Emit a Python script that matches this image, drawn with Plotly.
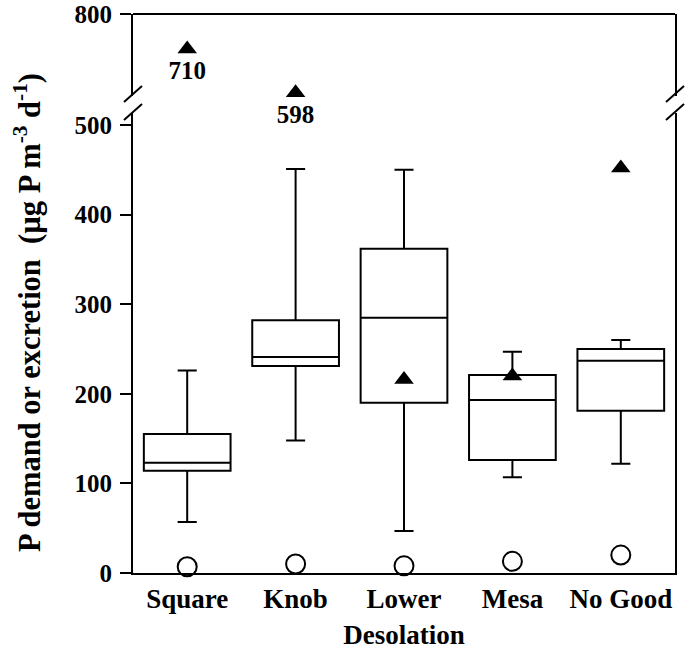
import plotly.graph_objects as go

# ---- data ----
categories = ["Square", "Knob", "Lower<br>Desolation", "Mesa", "No Good"]
upper_fence = [226, 451, 450, 247, 260]
q3_vals = [155, 282, 362, 221, 250]
median_vals = [123, 241, 285, 193, 237]
q1_vals = [114, 231, 190, 126, 181]
lower_fence = [57, 148, 47, 107, 122]
demand_triangles = [710, 598, 216, 220, 452]
excretion_circles = [7, 10, 8, 13, 20]
lower_ticks = [0, 100, 200, 300, 400, 500]
upper_ticks = [800]

# ---- layout geometry (pixels) ----
W, H = 694, 650
L, R, T, B = 133, 675, 14, 573
PW, PH = R - L, B - T


def px(x):
    return (x - L) / PW


def py(y):
    return (B - y) / PH


lower_top_px = 113
upper_bot_px = 96
lower_scale = 0.896   # px per unit
upper_scale = 0.39

lower_range = [0, (B - lower_top_px) / lower_scale]
upper_range = [800 - (upper_bot_px - T) / upper_scale, 800]

FONT = "Liberation Serif"

fig = go.Figure()

fig.add_trace(go.Box(
    x=categories, q1=q1_vals, median=median_vals, q3=q3_vals,
    lowerfence=lower_fence, upperfence=upper_fence,
    width=0.8, whiskerwidth=0.22, fillcolor="white",
    line=dict(color="black", width=2), boxpoints=False,
    xaxis="x", yaxis="y", showlegend=False, hoverinfo="skip",
))

lo_x = [c for c, v in zip(categories, demand_triangles) if v <= 500]
lo_y = [v for v in demand_triangles if v <= 500]
hi_x = [c for c, v in zip(categories, demand_triangles) if v > 500]
hi_y = [v for v in demand_triangles if v > 500]

fig.add_trace(go.Scatter(
    x=lo_x, y=lo_y, mode="markers",
    marker=dict(symbol="triangle-up", size=17, color="black"),
    yaxis="y", showlegend=False, cliponaxis=False,
))
fig.add_trace(go.Scatter(
    x=hi_x, y=hi_y, mode="markers+text",
    text=[str(v) for v in hi_y], textposition="bottom center",
    textfont=dict(family=FONT, size=25, color="black", weight="bold"),
    marker=dict(symbol="triangle-up", size=17, color="black"),
    yaxis="y2", showlegend=False, cliponaxis=False,
))
fig.add_trace(go.Scatter(
    x=categories, y=excretion_circles, mode="markers",
    marker=dict(symbol="circle", size=19, color="white",
                line=dict(color="black", width=2)),
    yaxis="y", showlegend=False, cliponaxis=False,
))

tickfont = dict(family=FONT, size=25, color="black", weight="bold")

shapes = []
line_style = dict(color="black", width=2)
# top border
shapes.append(dict(type="line", xref="paper", yref="paper",
                   x0=0, x1=1, y0=1, y1=1, line=line_style))
# break marks (left and right)
for xc in (L, R):
    for (ya, yb) in ((102, 86), (120, 104)):
        shapes.append(dict(type="line", xref="paper", yref="paper",
                           x0=px(xc - 9), x1=px(xc + 9), y0=py(ya), y1=py(yb),
                           line=line_style))

fig.update_layout(
    width=W, height=H,
    margin=dict(l=L, r=W - R, t=T, b=H - B),
    plot_bgcolor="white", paper_bgcolor="white",
    xaxis=dict(
        categoryorder="array", categoryarray=categories,
        range=[-0.5, 4.5], automargin=False,
        showline=True, linecolor="black", linewidth=2,
        ticks="", showgrid=False, zeroline=False,
        tickfont=dict(family=FONT, size=27, color="black", weight="bold"),
        ticklabelstandoff=1,
        anchor="y",
    ),
    yaxis=dict(
        domain=[0, py(lower_top_px)], range=lower_range, automargin=False,
        tickvals=lower_ticks, ticks="outside", ticklen=11, tickwidth=2,
        tickcolor="black", showline=True, linecolor="black", linewidth=2,
        mirror=True, showgrid=False, zeroline=False, tickfont=tickfont,
        ticklabelstandoff=3,
    ),
    yaxis2=dict(
        domain=[py(upper_bot_px), 1], range=upper_range, automargin=False,
        tickvals=upper_ticks, ticks="outside", ticklen=11, tickwidth=2,
        tickcolor="black", showline=True, linecolor="black", linewidth=2,
        mirror=True, showgrid=False, zeroline=False, tickfont=tickfont,
        anchor="x", ticklabelstandoff=3,
    ),
    shapes=shapes,
    annotations=[dict(
        text="P demand or excretion  (µg P m<sup>-3</sup> d<sup>-1</sup>)",
        xref="paper", yref="paper", x=px(27), y=py(313),
        xanchor="center", yanchor="middle", textangle=-90, showarrow=False,
        font=dict(family=FONT, size=30.5, color="black", weight="bold"),
    )],
)

fig.write_html("out.html",
               config={"displayModeBar": False},
               post_script="document.body.style.margin='0';")
